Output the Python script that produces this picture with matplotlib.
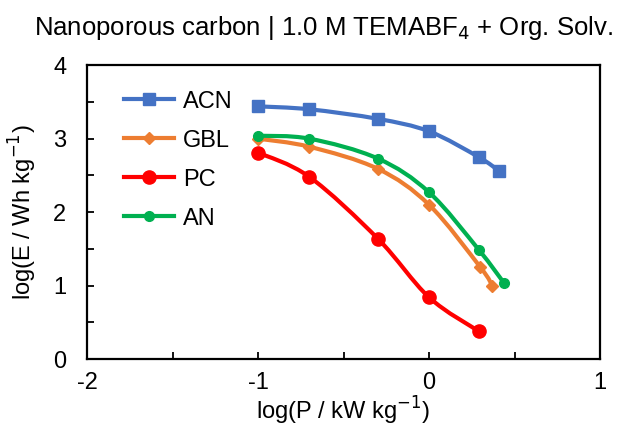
import numpy as np
import matplotlib.pyplot as plt
from matplotlib.path import Path
from matplotlib.patches import PathPatch
from matplotlib.lines import Line2D

plt.rcParams['font.family'] = ['Liberation Sans', 'DejaVu Sans']
plt.rcParams['axes.unicode_minus'] = False

# log(P / kW kg-1) and log(E / Wh kg-1) for each solvent
acn_x = [-1.0, -0.7, -0.3, 0.0, 0.29, 0.41]
acn_y = [3.44, 3.40, 3.27, 3.10, 2.75, 2.56]
gbl_x = [-1.0, -0.7, -0.3, 0.0, 0.30, 0.37]
gbl_y = [3.00, 2.89, 2.59, 2.10, 1.25, 1.00]
pc_x = [-1.0, -0.7, -0.3, 0.0, 0.29]
pc_y = [2.81, 2.48, 1.64, 0.84, 0.38]
an_x = [-1.0, -0.7, -0.3, 0.0, 0.29, 0.44]
an_y = [3.04, 3.00, 2.73, 2.27, 1.49, 1.03]

labels = ["ACN", "GBL", "PC", "AN"]
colors = ["#4472C4", "#ED7D31", "#FF0000", "#00B050"]
markers = ["s", "D", "o", "o"]
msizes = [8.5, 6.5, 9.5, 7]

FS = 17


def smooth_path(x, y):
    # Catmull-Rom through the points, written as cubic Bezier segments
    p = np.column_stack([x, y])
    n = len(p)
    verts = [p[0]]
    codes = [Path.MOVETO]
    for i in range(n - 1):
        p0 = p[i - 1] if i > 0 else p[i]
        p1, p2 = p[i], p[i + 1]
        p3 = p[i + 2] if i + 2 < n else p[i + 1]
        c1 = p1 + (p2 - p0) / 6.0
        c2 = p2 - (p3 - p1) / 6.0
        verts += [c1, c2, p2]
        codes += [Path.CURVE4] * 3
    return Path(verts, codes)


fig = plt.figure(figsize=(6.27, 4.29), dpi=100)
ax = fig.add_axes([0.139, 0.163, 0.818, 0.685])

series = [(acn_x, acn_y), (gbl_x, gbl_y), (pc_x, pc_y), (an_x, an_y)]
handles = []
for (xs, ys), lab, c, m, ms in zip(series, labels, colors, markers, msizes):
    ax.add_patch(PathPatch(smooth_path(xs, ys), fill=False, edgecolor=c,
                           lw=3, capstyle='round', zorder=2))
    ax.plot(xs, ys, ls='none', marker=m, ms=ms, color=c, zorder=3)
    handles.append(Line2D([], [], color=c, lw=3, marker=m, ms=ms))

ax.set_xlim(-2, 1)
ax.set_ylim(0, 4)
ax.set_xticks([-2, -1, 0, 1])
ax.set_xticks([-1.5, -0.5, 0.5], minor=True)
ax.set_yticks([0, 1, 2, 3, 4])
ax.set_yticks([0.5, 1.5, 2.5, 3.5], minor=True)
ax.tick_params(which='both', direction='in', length=5, width=1.3,
               labelsize=FS)
ax.tick_params(axis='x', which='both', pad=9)
ax.tick_params(axis='y', which='both', pad=15)
for s in ax.spines.values():
    s.set_linewidth(1.6)

ax.set_xlabel("log(P / kW kg$^{-1}$)", fontsize=FS, labelpad=1)
ax.set_ylabel("log(E / Wh kg$^{-1}$)", fontsize=FS, labelpad=10)
fig.text(324 / 627, 1 - 28 / 429,
         "Nanoporous carbon | 1.0 M TEMABF$_4$ + Org. Solv.",
         fontsize=18.5, ha='center', va='center')

ax.legend(handles, labels, loc='upper left', frameon=False, fontsize=FS,
          handlelength=2.1, handletextpad=0.4, labelspacing=0.72,
          borderaxespad=0.3, bbox_to_anchor=(0.04, 0.97))

fig.savefig("out.png", dpi=100)
